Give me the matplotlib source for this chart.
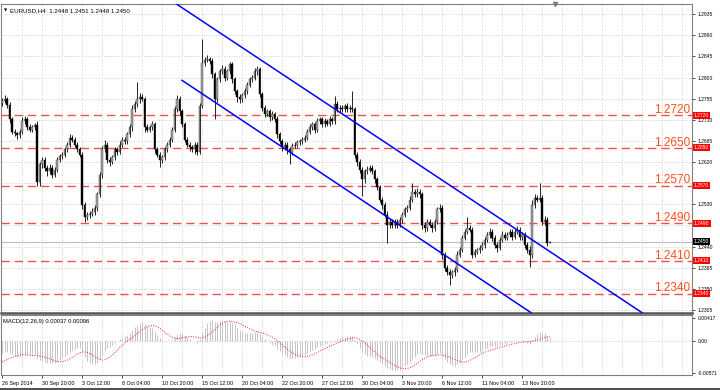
import numpy as np
import pandas as pd
import matplotlib
matplotlib.use("Agg")
import matplotlib.pyplot as plt
from matplotlib.lines import Line2D

# EURUSD H4 closes in pips (price * 10000)
closes = [
    12750, 12754, 12741, 12711, 12685, 12681, 12677, 12685, 12707, 12711, 12694, 12689, 12694, 12698, 12578, 12615,
    12625, 12608, 12600, 12608, 12593, 12604, 12625, 12632, 12636, 12647, 12657, 12672, 12668, 12657, 12647, 12636,
    12529, 12502, 12508, 12510, 12514, 12523, 12551, 12593, 12647, 12657, 12625, 12621, 12630, 12647, 12642, 12657,
    12668, 12664, 12679, 12694, 12732, 12743, 12754, 12758, 12754, 12694, 12689, 12694, 12700, 12647, 12636, 12625,
    12630, 12647, 12657, 12668, 12689, 12732, 12754, 12728, 12700, 12668, 12657, 12651, 12647, 12657, 12642, 12740,
    12830, 12838, 12839, 12835, 12807, 12754, 12796, 12813, 12818, 12800, 12813, 12828, 12796, 12771, 12758, 12754,
    12762, 12771, 12785, 12796, 12800, 12813, 12818, 12764, 12736, 12722, 12728, 12715, 12722, 12711, 12679, 12664,
    12651, 12657, 12647, 12642, 12655, 12657, 12662, 12664, 12668, 12672, 12685, 12694, 12700, 12689, 12707, 12711,
    12700, 12707, 12702, 12711, 12707, 12743, 12732, 12736, 12732, 12739, 12732, 12736, 12732, 12636, 12621, 12604,
    12583, 12600, 12604, 12608, 12600, 12583, 12566, 12540, 12529, 12508, 12487, 12493, 12485, 12493, 12487, 12497,
    12508, 12519, 12523, 12540, 12557, 12551, 12557, 12551, 12487, 12480, 12493, 12487, 12480, 12493, 12519, 12523,
    12423, 12395, 12386, 12380, 12386, 12391, 12423, 12433, 12459, 12472, 12480, 12476, 12423, 12429, 12433, 12438,
    12444, 12455, 12465, 12472, 12459, 12444, 12438, 12455, 12465, 12459, 12465, 12472, 12461, 12472, 12476, 12461,
    12465, 12444, 12433, 12423, 12529, 12544, 12540, 12544, 12493, 12497, 12448, 12450,
]
# wick lengths above / below the body, pips
wick_up = [
    6, 8, 5, 6, 5, 6, 4, 6, 8, 6, 5, 6, 5, 6, 10, 6,
    6, 5, 6, 8, 5, 6, 5, 6, 6, 5, 6, 8, 6, 5, 6, 5,
    5, 6, 5, 6, 8, 6, 5, 6, 8, 10, 6, 5, 6, 5, 6, 8,
    6, 5, 6, 8, 10, 6, 36, 8, 6, 5, 6, 5, 8, 5, 6, 5,
    6, 5, 6, 5, 6, 8, 8, 6, 5, 6, 5, 6, 5, 6, 5, 6,
    52, 6, 8, 5, 6, 5, 6, 5, 8, 6, 5, 6, 5, 6, 5, 6,
    5, 6, 5, 6, 5, 8, 6, 5, 6, 5, 6, 5, 6, 5, 6, 5,
    5, 6, 5, 6, 6, 5, 6, 5, 6, 5, 6, 8, 6, 5, 6, 5,
    5, 6, 5, 6, 5, 17, 6, 5, 6, 5, 6, 5, 36, 6, 5, 6,
    6, 5, 8, 6, 5, 6, 5, 6, 5, 6, 8, 6, 5, 6, 5, 6,
    5, 6, 5, 8, 19, 6, 8, 5, 6, 5, 6, 5, 6, 5, 6, 7,
    5, 6, 5, 6, 5, 6, 8, 6, 5, 6, 24, 6, 5, 6, 5, 6,
    6, 5, 6, 8, 5, 6, 5, 6, 8, 5, 6, 5, 6, 5, 8, 5,
    6, 5, 6, 8, 10, 8, 6, 32, 6, 8, 5, 1,
]
wick_dn = [
    6, 5, 6, 8, 6, 5, 8, 5, 6, 5, 6, 5, 6, 5, 8, 10,
    8, 6, 10, 5, 8, 5, 6, 5, 6, 5, 5, 6, 5, 6, 5, 6,
    8, 9, 6, 8, 5, 6, 8, 6, 6, 5, 8, 10, 6, 5, 6, 5,
    5, 6, 5, 6, 8, 5, 6, 8, 5, 10, 6, 5, 6, 8, 6, 15,
    6, 5, 6, 5, 6, 5, 6, 8, 6, 5, 6, 8, 6, 10, 6, 5,
    5, 6, 5, 6, 8, 43, 6, 5, 6, 8, 5, 6, 8, 6, 10, 8,
    6, 5, 6, 5, 6, 5, 8, 6, 8, 6, 5, 8, 6, 6, 8, 6,
    8, 6, 10, 27, 6, 5, 6, 5, 6, 5, 6, 5, 6, 8, 5, 6,
    6, 5, 6, 5, 6, 5, 6, 5, 6, 5, 6, 5, 6, 8, 10, 8,
    36, 8, 6, 5, 6, 8, 6, 5, 8, 6, 39, 8, 6, 5, 8, 6,
    6, 5, 6, 5, 6, 5, 6, 8, 10, 8, 6, 5, 8, 6, 5, 6,
    10, 8, 6, 22, 6, 8, 5, 6, 5, 6, 5, 6, 8, 6, 5, 6,
    5, 6, 5, 6, 8, 6, 10, 5, 6, 5, 6, 5, 6, 5, 6, 8,
    6, 8, 6, 26, 8, 6, 5, 6, 8, 6, 6, 0,
]
first_open = 12745

levels = [1.2720, 1.2650, 1.2570, 1.2490, 1.2410, 1.2340]
last_price = 1.2450
price_ticks = [1.2935, 1.2890, 1.2845, 1.2800, 1.2755, 1.2710, 1.2665, 1.2620,
               1.2575, 1.2530, 1.2485, 1.2440, 1.2395, 1.2350, 1.2305]
# these two scale labels sit under the red level boxes in the terminal
hidden_ticks = [1.2575, 1.2485]
time_labels = ["26 Sep 2014", "30 Sep 20:00", "3 Oct 12:00", "8 Oct 04:00", "10 Oct 20:00",
               "15 Oct 12:00", "20 Oct 04:00", "22 Oct 20:00", "27 Oct 12:00", "30 Oct 04:00",
               "3 Nov 20:00", "6 Nov 12:00", "11 Nov 04:00", "13 Nov 20:00"]
bars_per_label = 16

# channel lines: (bar index, price) endpoints
upper_channel = [(68.5, 1.2961), (256.1, 1.2299)]
lower_channel = [(72.0, 1.2794), (211.7, 1.2299)]

# MACD(12,26,9) state at the first visible bar
macd_seed = -0.0024
signal_seed = -0.0040
macd_ticks = [0.00417, 0.0, -0.00571]
macd_tick_labels = ["0.00417", "0.00", "-0.00571"]

assert len(closes) == len(wick_up) == len(wick_dn)

c = np.array(closes) / 1e4
o = np.r_[first_open, closes[:-1]] / 1e4
hi = np.maximum(o, c) + np.array(wick_up) / 1e4
lo = np.minimum(o, c) - np.array(wick_dn) / 1e4
xs = np.arange(len(c))


def ema(values, span, start):
    alpha = 2.0 / (span + 1)
    out = []
    prev = start
    for v in values:
        prev = prev + alpha * (v - prev)
        out.append(prev)
    return np.array(out)


macd = ema(c, 12, c[0]) - ema(c, 26, c[0] - macd_seed)
signal = pd.Series(np.r_[[signal_seed] * 8, macd]).rolling(9).mean().values[8:]

plt.rcParams['font.family'] = ['Liberation Sans', 'DejaVu Sans']

W, H = 720, 390
fig = plt.figure(figsize=(7.2, 3.9), dpi=100)


def box(x0, y0, x1, y1):
    return [x0 / W, 1 - y1 / H, (x1 - x0) / W, (y1 - y0) / H]


XLIM = (-0.4, 276.0)
grid_kw = dict(color='#c0c0c0', lw=0.6, ls=(0, (1, 2)), zorder=0)

# ---------------- main price window ----------------
ax = fig.add_axes(box(1, 4, 692, 313))
ax.set_xlim(*XLIM)
ax.set_ylim(1.22986, 1.29565)

for gx in range(8, int(XLIM[1]) + 1, 8):
    ax.axvline(gx, **grid_kw)
for p in price_ticks:
    ax.axhline(p, **grid_kw)

ax.axhline(last_price, color='#c0c0c0', lw=0.8, zorder=1)

for lv in levels:
    ax.axhline(lv, color='#f25050', lw=1.0, ls=(0, (6, 3.5)), zorder=2)

bull = c >= o
ax.vlines(xs, lo, hi, color='black', lw=0.6, zorder=3)
heights = np.maximum(np.abs(c - o), 0.00003)
ax.bar(xs[bull], heights[bull], bottom=np.minimum(o, c)[bull], width=0.6,
       color='#a0a0a0', edgecolor='#404040', linewidth=0.3, zorder=4)
ax.bar(xs[~bull], heights[~bull], bottom=np.minimum(o, c)[~bull], width=0.6,
       color='black', edgecolor='black', linewidth=0.3, zorder=4)

for (x0, y0), (x1, y1) in (upper_channel, lower_channel):
    ax.plot([x0, x1], [y0, y1], color='#0000ff', lw=1.1, zorder=5)

ytr = ax.get_yaxis_transform()
for lv in levels:
    ax.text(0.997, lv + 0.00045, f"{lv:.4f}", transform=ytr, ha='right', va='baseline',
            fontsize=8.5, color='#ff4f1a', zorder=6)
    ax.text(1.003, lv, f"{lv:.4f}", transform=ytr, ha='left', va='center', fontsize=3.6,
            color='white', zorder=7, clip_on=False,
            bbox=dict(boxstyle='square,pad=0.2', fc='#ff0000', ec='none'))
ax.text(1.003, last_price, f"{last_price:.4f}", transform=ytr, ha='left', va='center',
        fontsize=3.6, color='white', zorder=7, clip_on=False,
        bbox=dict(boxstyle='square,pad=0.2', fc='black', ec='none'))

ax.yaxis.tick_right()
ax.set_yticks(price_ticks)
ax.set_yticklabels(["" if p in hidden_ticks else f"{p:.4f}" for p in price_ticks])
ax.tick_params(axis='y', length=2.5, width=0.5, labelsize=3.6, pad=1.5, colors='black')
ax.set_xticks([])
for s in ax.spines.values():
    s.set_color('#808080')
    s.set_linewidth(0.8)
ax.spines['bottom'].set_color('#555555')
ax.spines['bottom'].set_linewidth(1.8)

ax.plot([221], [1.29565], marker='v', ms=3, color='#808080', clip_on=False, zorder=8)
ax.text(0.004, 0.985, "\u25bc", transform=ax.transAxes, fontsize=3, va='top',
        family=['DejaVu Sans'])
ax.text(0.013, 0.987, "EURUSD,H4  1.2448 1.2451 1.2448 1.2450", transform=ax.transAxes,
        fontsize=4.4, va='top')

# ---------------- MACD window ----------------
mx = fig.add_axes(box(1, 315, 692, 375))
mx.set_xlim(*XLIM)
mx.set_ylim(-0.00616, 0.00471)
for gx in range(8, int(XLIM[1]) + 1, 8):
    mx.axvline(gx, **grid_kw)
mx.axhline(0, **grid_kw)
mx.vlines(xs, 0, macd, color='#c4c4c4', lw=0.7, zorder=2)
mx.plot(xs, signal, color='#ff2020', lw=0.7, ls=(0, (1, 1.5)), zorder=3)

mx.yaxis.tick_right()
mx.set_yticks(macd_ticks)
mx.set_yticklabels(macd_tick_labels)
mx.tick_params(axis='y', length=2.5, width=0.5, labelsize=3.6, pad=1.5)
mx.set_xticks([bars_per_label * k for k in range(len(time_labels))])
mx.set_xticklabels(time_labels)
mx.tick_params(axis='x', length=2.5, width=0.5, labelsize=3.9, pad=1.5)
for lbl in mx.get_xticklabels():
    lbl.set_horizontalalignment('left')
for s in mx.spines.values():
    s.set_color('#808080')
    s.set_linewidth(0.8)
mx.text(0.003, 0.93, "MACD(12,26,9) 0.00037 0.00096", transform=mx.transAxes,
        fontsize=4.2, va='top')

fig.add_artist(Line2D([0, 1], [0.6 / H, 0.6 / H], color='#303030', lw=1.2))

fig.savefig("out.png", dpi=100)
